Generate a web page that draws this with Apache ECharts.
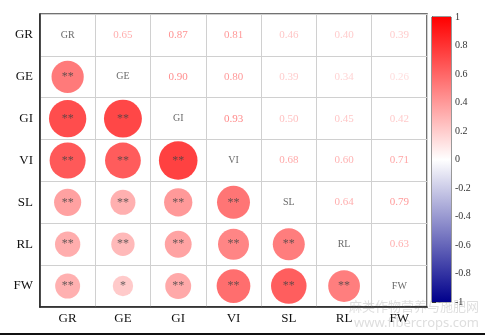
<!DOCTYPE html>
<html>
<head>
<meta charset="utf-8">
<script src="https://cdn.jsdelivr.net/npm/echarts@6/dist/echarts.min.js"></script>
<style>html,body{margin:0;padding:0;background:#fff}#c{width:485px;height:335px}</style>
</head>
<body>
<div id="c"></div>
<script>
var vars = ['GR', 'GE', 'GI', 'VI', 'SL', 'RL', 'FW'];
var rowGR = [1, 0.65, 0.87, 0.81, 0.46, 0.40, 0.39];
var rowGE = [0.65, 1, 0.90, 0.80, 0.39, 0.34, 0.26];
var rowGI = [0.87, 0.90, 1, 0.93, 0.50, 0.45, 0.42];
var rowVI = [0.81, 0.80, 0.93, 1, 0.68, 0.60, 0.71];
var rowSL = [0.46, 0.39, 0.50, 0.68, 1, 0.64, 0.79];
var rowRL = [0.40, 0.34, 0.45, 0.60, 0.64, 1, 0.63];
var rowFW = [0.39, 0.26, 0.42, 0.71, 0.79, 0.63, 1];
// significance marks for lower triangle (row, col)
var sigGE = ['**'];
var sigGI = ['**', '**'];
var sigVI = ['**', '**', '**'];
var sigSL = ['**', '**', '**', '**'];
var sigRL = ['**', '**', '**', '**', '**'];
var sigFW = ['**', '*', '**', '**', '**', '**'];
var colorTicks = [1, 0.8, 0.6, 0.4, 0.2, 0, -0.2, -0.4, -0.6, -0.8, -1];

var rows = [rowGR, rowGE, rowGI, rowVI, rowSL, rowRL, rowFW];
var sigs = [[], sigGE, sigGI, sigVI, sigSL, sigRL, sigFW];

function col(v) {
  if (v >= 0) {
    var g = Math.round(255 * (1 - v));
    return 'rgb(255,' + g + ',' + g + ')';
  } else {
    var a = -v;
    var r = Math.round(255 * (1 - a));
    var b = Math.round(255 - (255 - 139) * a);
    return 'rgb(' + r + ',' + r + ',' + b + ')';
  }
}

var circleData = [], textData = [], diagData = [];
for (var i = 0; i < vars.length; i++) {
  for (var j = 0; j < vars.length; j++) {
    var v = rows[i][j];
    if (i === j) {
      diagData.push({ value: [j, i], name: vars[i] });
    } else if (i > j) {
      circleData.push({
        value: [j, i, v],
        sig: sigs[i][j],
        symbolSize: 40 * Math.sqrt(Math.abs(v)),
        itemStyle: { color: col(v) }
      });
    } else {
      textData.push({
        value: [j, i, v],
        label: { color: col(v * 0.62) }
      });
    }
  }
}

var chart = echarts.init(document.getElementById('c'));
chart.setOption({
  backgroundColor: '#fff',
  animation: false,
  grid: [
    { left: 40, right: 58, top: 14, bottom: 28, show: true, borderColor: '#444', borderWidth: 1.5, backgroundColor: '#fff' },
    { left: 432, width: 19, top: 17, height: 285, show: true, borderColor: '#333', borderWidth: 1 }
  ],
  xAxis: [
    {
      gridIndex: 0, type: 'category', data: vars,
      axisLine: { show: true, lineStyle: { color: '#222', width: 1.5 } },
      axisTick: { show: false },
      axisLabel: { fontFamily: 'Liberation Serif', fontSize: 13, color: '#111', margin: 5 },
      splitLine: { show: true, lineStyle: { color: '#d0d0d0', width: 1 } }
    },
    { gridIndex: 1, type: 'value', min: 0, max: 1, show: false }
  ],
  yAxis: [
    {
      gridIndex: 0, type: 'category', data: vars, inverse: true,
      axisLine: { show: true, lineStyle: { color: '#222', width: 1.5 } },
      axisTick: { show: false },
      axisLabel: { fontFamily: 'Liberation Serif', fontSize: 13, color: '#111', margin: 7 },
      splitLine: { show: true, lineStyle: { color: '#d0d0d0', width: 1 } }
    },
    {
      gridIndex: 1, type: 'value', min: -1, max: 1, interval: 0.2, position: 'right',
      axisLine: { show: true, lineStyle: { color: '#333' } },
      axisTick: { show: true, length: 4, lineStyle: { color: '#333' } },
      splitLine: { show: false },
      axisLabel: {
        fontFamily: 'Liberation Serif', fontSize: 10, color: '#333', margin: 4,
        formatter: function (v) {
          var r = Math.round(v * 10) / 10;
          return colorTicks.indexOf(r) >= 0 ? String(r) : '';
        }
      }
    }
  ],
  series: [
    {
      type: 'scatter', xAxisIndex: 0, yAxisIndex: 0, data: circleData,
      label: {
        show: true, position: 'inside', fontFamily: 'Liberation Serif', fontSize: 12, color: '#444',
        formatter: function (p) { return p.data.sig; }
      },
      z: 3
    },
    {
      type: 'scatter', xAxisIndex: 0, yAxisIndex: 0, data: textData,
      symbolSize: 1, itemStyle: { color: 'rgba(255,255,255,0)' },
      label: {
        show: true, position: 'inside', fontFamily: 'Liberation Serif', fontSize: 11,
        formatter: function (p) { return p.value[2].toFixed(2); }
      },
      z: 3
    },
    {
      type: 'scatter', xAxisIndex: 0, yAxisIndex: 0, data: diagData,
      symbolSize: 1, itemStyle: { color: 'rgba(255,255,255,0)' },
      label: {
        show: true, position: 'inside', fontFamily: 'Liberation Serif', fontSize: 10, color: '#444',
        formatter: function (p) { return p.name; }
      },
      z: 3
    },
    {
      type: 'custom', xAxisIndex: 1, yAxisIndex: 1, data: [[0, 1, 1, -1]],
      renderItem: function (params, api) {
        var p1 = api.coord([api.value(0), api.value(1)]);
        var p2 = api.coord([api.value(2), api.value(3)]);
        return {
          type: 'rect',
          shape: { x: p1[0], y: p1[1], width: p2[0] - p1[0], height: p2[1] - p1[1] },
          style: {
            fill: new echarts.graphic.LinearGradient(0, 0, 0, 1, [
              { offset: 0, color: col(1) },
              { offset: 0.5, color: col(0) },
              { offset: 1, color: col(-1) }
            ])
          }
        };
      }
    }
  ],
  graphic: [
    { type: 'text', right: 6, bottom: 22, style: { text: '麻类作物营养与施肥网', font: '13px "Noto Sans CJK SC"', fill: 'rgba(200,200,200,0.6)' } },
    { type: 'text', right: 6, bottom: 5, style: { text: 'www.fibercrops.com', font: '13px "Noto Sans"', fill: 'rgba(200,200,200,0.6)' } },
    { type: 'rect', left: 0, bottom: 0, shape: { width: 485, height: 2 }, style: { fill: '#111' } }
  ]
});
</script>
</body>
</html>
